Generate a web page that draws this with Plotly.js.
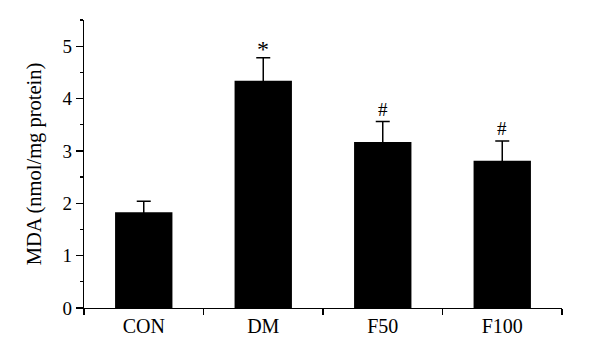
<!DOCTYPE html>
<html>
<head>
<meta charset="utf-8">
<script src="https://cdn.plot.ly/plotly-3.0.1.min.js"></script>
<style>html,body{margin:0;padding:0;background:#fff;}#chart{width:600px;height:363px;}</style>
</head>
<body>
<div id="chart"></div>
<script>
const categories = ["CON", "DM", "F50", "F100"];
const mdaValues = [1.83, 4.34, 3.17, 2.81];
const mdaErrors = [0.21, 0.44, 0.39, 0.38];
const sigMarks = ["", "*", "#", "#"];
const yTickVals = [0, 1, 2, 3, 4, 5];

const fam = "Liberation Serif";
const xFont = {family: fam, size: 20, color: "#000"};
const yFont = {family: fam, size: 19, color: "#000"};
const titleFont = {family: fam, size: 20.5, color: "#000"};

const trace = {
  type: "bar",
  x: categories,
  y: mdaValues,
  width: 0.48,
  marker: {color: "#000", line: {width: 0}},
  error_y: {
    type: "data",
    array: mdaErrors,
    color: "#000",
    thickness: 1.5,
    width: 7
  },
  hoverinfo: "none"
};

const annotations = categories.map((c, i) => ({
  x: c,
  y: mdaValues[i] + mdaErrors[i],
  text: sigMarks[i],
  showarrow: false,
  yanchor: "bottom",
  yshift: sigMarks[i] === "*" ? -6 : 0,
  font: {family: fam, size: sigMarks[i] === "*" ? 24 : 19, color: "#000"}
})).filter(a => a.text);

const layout = {
  width: 600,
  height: 363,
  margin: {l: 84, r: 38, t: 20, b: 55},
  paper_bgcolor: "#fff",
  plot_bgcolor: "#fff",
  font: yFont,
  showlegend: false,
  xaxis: {
    type: "category",
    range: [-0.5, 3.5],
    showline: true,
    linecolor: "#000",
    linewidth: 1.2,
    ticks: "outside",
    tickson: "boundaries",
    ticklen: 6,
    tickcolor: "#000",
    tickwidth: 1.2,
    showgrid: false,
    zeroline: false,
    tickfont: xFont
  },
  yaxis: {
    range: [0, 5.5],
    tickvals: yTickVals,
    showline: true,
    linecolor: "#000",
    linewidth: 1.2,
    ticks: "outside",
    ticklen: 7,
    tickcolor: "#000",
    tickwidth: 1.2,
    minor: {dtick: 0.5, ticks: "outside", ticklen: 3, tickcolor: "#000", tickwidth: 1.2, showgrid: false},
    showgrid: false,
    zeroline: false,
    tickfont: yFont,
    title: {text: "MDA (nmol/mg protein)", font: titleFont, standoff: 15}
  },
  annotations: annotations
};

Plotly.newPlot("chart", [trace], layout, {staticPlot: true, displayModeBar: false});
</script>
</body>
</html>
